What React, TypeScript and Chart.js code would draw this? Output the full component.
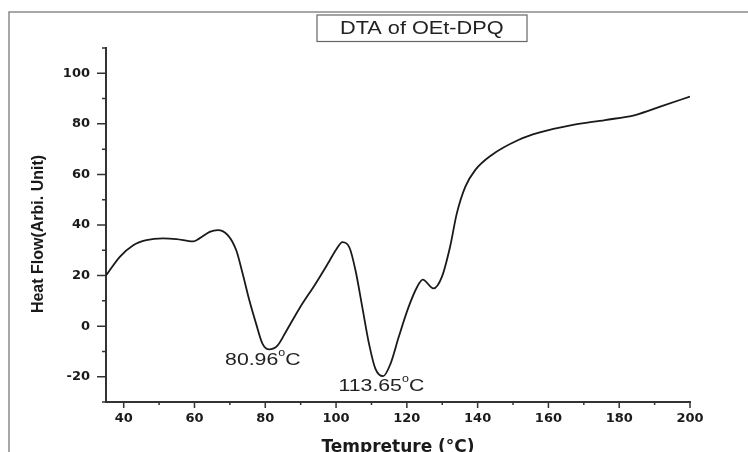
import React, { useEffect, useRef } from "react";
import { Chart, registerables } from "chart.js";

Chart.register(...registerables);

const TEMP = [
  35, 38.9, 42.7, 46.4, 51.1, 54.9, 59.6, 61.4, 64.3, 66.6, 69.4, 71.8, 73.6, 75.5, 77.4,
  79.2, 81.1, 83.5, 85.8, 89.6, 94.3, 98, 100, 101.8, 103.8, 105.5, 107.4, 109.3, 111.1,
  113.3, 115.4, 117.7, 120.5, 122.9, 124.5, 127.5, 129.9, 132.2, 134.1, 136.5, 139.3,
  143.9, 151.5, 157.3, 166.6, 176, 184.5, 192, 200,
];
const HEAT = [
  20, 27.4, 32, 34, 34.7, 34.4, 33.5, 34.7, 37.3, 38, 36, 30, 20.8, 10.2, 1,
  -6.9, -9.2, -7.6, -2.3, 6.9, 17, 25.5, 30.2, 33.2, 31, 22, 7.6, -6.9, -16.8,
  -19.8, -14.8, -4.3, 7.6, 15.5, 18.4, 14.9, 19.5, 31.3, 44.5, 55.1, 61.7,
  67.6, 73.6, 76.5, 79.5, 81.5, 83.5, 87, 90.8,
];

const X_MAJOR = [40, 60, 80, 100, 120, 140, 160, 180, 200];
const X_MINOR = [50, 70, 90, 110, 130, 150, 170, 190];
const Y_MAJOR = [-20, 0, 20, 40, 60, 80, 100];
const Y_MINOR = [-30, -10, 10, 30, 50, 70, 90, 110];

const PEAK_TEXT = ["80.96", "113.65"];
const PEAK_LABEL_X = [79.3, 112.8];
const PEAK_LABEL_Y = [-13.0, -23.2];

const CHART_TITLE = "DTA of OEt-DPQ";
const X_TITLE = "Tempreture (°C)";
const Y_TITLE = "Heat Flow(Arbi. Unit)";

const W = 748;
const H = 458;
const SANS = "'Liberation Sans', Arial, sans-serif";

type Part = { t: string; size: number; dy: number; bold?: boolean };

function drawStretched(ctx: CanvasRenderingContext2D, parts: Part[], cx: number, baseline: number, sx: number, color: string) {
  ctx.save();
  ctx.fillStyle = color;
  ctx.textBaseline = "alphabetic";
  ctx.textAlign = "left";
  let total = 0;
  const widths = parts.map((p) => {
    ctx.font = `${p.bold ? "bold " : ""}${p.size}px ${SANS}`;
    const w = ctx.measureText(p.t).width;
    total += w;
    return w;
  });
  ctx.translate(cx, baseline);
  ctx.scale(sx, 1);
  let x = -total / 2;
  parts.forEach((p, i) => {
    ctx.font = `${p.bold ? "bold " : ""}${p.size}px ${SANS}`;
    ctx.fillText(p.t, x, p.dy);
    x += widths[i];
  });
  ctx.restore();
}

const decorPlugin = {
  id: "decor",
  beforeDraw(chart: any) {
    const ctx: CanvasRenderingContext2D = chart.ctx;
    ctx.save();
    ctx.fillStyle = "#ffffff";
    ctx.fillRect(0, 0, chart.width, chart.height);
    ctx.strokeStyle = "#8a8a8a";
    ctx.lineWidth = 1.5;
    ctx.beginPath();
    ctx.moveTo(9, chart.height);
    ctx.lineTo(9, 12);
    ctx.lineTo(chart.width, 12);
    ctx.stroke();
    ctx.restore();
  },
  afterDraw(chart: any) {
    const ctx: CanvasRenderingContext2D = chart.ctx;
    const { chartArea, scales } = chart;
    const xs = scales.x;
    const ys = scales.y;
    ctx.save();
    ctx.strokeStyle = "#333333";
    ctx.lineWidth = 1.5;
    ctx.beginPath();
    X_MAJOR.forEach((v) => {
      const p = xs.getPixelForValue(v);
      ctx.moveTo(p, chartArea.bottom);
      ctx.lineTo(p, chartArea.bottom + 6);
    });
    X_MINOR.forEach((v) => {
      const p = xs.getPixelForValue(v);
      ctx.moveTo(p, chartArea.bottom);
      ctx.lineTo(p, chartArea.bottom + 3);
    });
    Y_MAJOR.forEach((v) => {
      const p = ys.getPixelForValue(v);
      ctx.moveTo(chartArea.left, p);
      ctx.lineTo(chartArea.left - 9, p);
    });
    Y_MINOR.forEach((v) => {
      const p = ys.getPixelForValue(v);
      ctx.moveTo(chartArea.left, p);
      ctx.lineTo(chartArea.left - 4, p);
    });
    ctx.stroke();

    // y axis title (rotated)
    ctx.save();
    ctx.translate(39, 234);
    ctx.rotate(-Math.PI / 2);
    ctx.fillStyle = "#1a1a1a";
    ctx.font = `bold 16px ${SANS}`;
    ctx.textAlign = "center";
    ctx.textBaseline = "middle";
    ctx.fillText(Y_TITLE, 0, 0);
    ctx.restore();

    // title box
    ctx.fillStyle = "#ffffff";
    ctx.fillRect(317, 15, 210, 26.5);
    ctx.strokeStyle = "#666666";
    ctx.lineWidth = 1.2;
    ctx.strokeRect(317, 15, 210, 26.5);
    drawStretched(ctx, [{ t: CHART_TITLE, size: 17.5, dy: 0 }], 421.8, 34, 1.24, "#222222");

    // peak labels
    PEAK_TEXT.forEach((txt, i) => {
      const cx = xs.getPixelForValue(PEAK_LABEL_X[i]);
      const cy = ys.getPixelForValue(PEAK_LABEL_Y[i]);
      drawStretched(
        ctx,
        [
          { t: txt, size: 17, dy: 0 },
          { t: "o", size: 10, dy: -9 },
          { t: "C", size: 17, dy: 0 },
        ],
        cx,
        cy + 6.1,
        1.25,
        "#222222"
      );
    });
    ctx.restore();
  },
};

export default function App() {
  const ref = useRef<HTMLCanvasElement | null>(null);

  useEffect(() => {
    if (!ref.current) return;
    const chart = new Chart(ref.current, {
      type: "line",
      data: {
        datasets: [
          {
            data: TEMP.map((t, i) => ({ x: t, y: HEAT[i] })),
            borderColor: "#1a1a1a",
            borderWidth: 1.8,
            pointRadius: 0,
            fill: false,
            cubicInterpolationMode: "monotone",
          },
        ],
      },
      options: {
        animation: false,
        responsive: false,
        devicePixelRatio: 1,
        layout: { padding: { left: 0, right: 58, top: 48, bottom: 0 } },
        plugins: {
          legend: { display: false },
          tooltip: { enabled: false },
          title: { display: false },
        },
        scales: {
          x: {
            type: "linear",
            min: 35,
            max: 200,
            afterBuildTicks: (scale: any) => {
              scale.ticks = X_MAJOR.map((v) => ({ value: v }));
            },
            afterFit: (scale: any) => {
              scale.height = H - 402;
            },
            grid: { display: false, drawTicks: false },
            border: { display: true, color: "#333333", width: 2 },
            ticks: {
              autoSkip: false,
              maxRotation: 0,
              padding: 9,
              color: "#1a1a1a",
              font: { family: "'DejaVu Sans'", weight: "bold", size: 13 },
            },
            title: {
              display: true,
              text: X_TITLE,
              color: "#1a1a1a",
              padding: { top: 0, bottom: 0 },
              font: { family: "'DejaVu Sans'", weight: "bold", size: 17 },
            },
          },
          y: {
            type: "linear",
            min: -30,
            max: 110,
            afterBuildTicks: (scale: any) => {
              scale.ticks = Y_MAJOR.map((v) => ({ value: v }));
            },
            afterFit: (scale: any) => {
              scale.width = 106;
            },
            grid: { display: false, drawTicks: false },
            border: { display: true, color: "#333333", width: 2 },
            ticks: {
              autoSkip: false,
              padding: 16,
              color: "#1a1a1a",
              font: { family: "'DejaVu Sans'", weight: "bold", size: 13 },
            },
            title: { display: false },
          },
        },
      },
      plugins: [decorPlugin],
    } as any);
    return () => chart.destroy();
  }, []);

  return (
    <div style={{ position: "fixed", left: 0, top: 0, width: W, height: 452, overflow: "hidden", background: "#fff" }}>
      <canvas ref={ref} width={W} height={H} style={{ display: "block", width: W, height: H }} />
    </div>
  );
}
